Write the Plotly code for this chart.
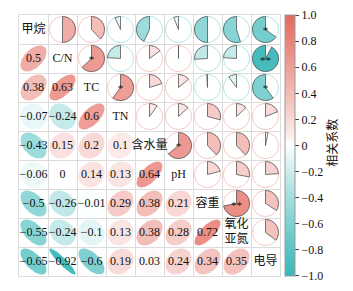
import numpy as np
import plotly.graph_objects as go

# ---------------- data ----------------
names = ["甲烷", "C/N", "TC", "TN", "含水量", "pH", "容重", "氧化<br>亚氮", "电导"]
lower_rows = [
    [0.5],
    [0.38, 0.63],
    [-0.07, -0.24, 0.6],
    [-0.43, 0.15, 0.2, 0.1],
    [-0.06, 0, 0.14, 0.13, 0.64],
    [-0.5, -0.26, -0.01, 0.29, 0.38, 0.21],
    [-0.55, -0.24, -0.1, 0.13, 0.38, 0.28, 0.72],
    [-0.65, -0.92, -0.6, 0.19, 0.03, 0.24, 0.34, 0.35],
]
sig_pairs = [(0, 8, "*"), (1, 2, "*"), (1, 8, "**"), (2, 3, "*"),
             (2, 8, "*"), (4, 5, "*"), (6, 7, "**")]
cbar_vals = [-1.0, -0.8, -0.6, -0.4, -0.2, 0, 0.2, 0.4, 0.6, 0.8, 1.0]
cbar_text = ["−1.0", "−0.8", "−0.6", "−0.4", "−0.2", "0", "0.2", "0.4", "0.6", "0.8", "1.0"]

n = len(names)
R = np.eye(n)
for i, row in enumerate(lower_rows):
    for j, v in enumerate(row):
        R[i + 1, j] = v
        R[j, i + 1] = v

# ---------------- style ----------------
NEG = np.array([56, 183, 184])
POS = np.array([228, 106, 94])
WHITE = np.array([255, 255, 255])
GAMMA = 0.85
SERIF = "Liberation Serif, Noto Sans CJK SC"
CJK = "Noto Sans CJK SC"


def col(v):
    a = min(abs(v), 1.0) ** GAMMA
    base = POS if v >= 0 else NEG
    c = WHITE + (base - WHITE) * a
    return "rgb(%d,%d,%d)" % tuple(np.round(c))


stops = np.linspace(-1, 1, 21)
colorscale = [[(s + 1) / 2, col(s)] for s in stops]

fig = go.Figure()
S = 0.45

# lower triangle: ellipses + numbers
for i in range(n):
    for j in range(i):
        r = R[i, j]
        cx, cy = j + 0.5, i + 0.5
        d = np.arccos(r)
        t = np.linspace(0, 2 * np.pi, 80)
        ex = cx + S * np.cos(t + d / 2)
        ey = cy - S * np.cos(t - d / 2)
        fig.add_trace(go.Scatter(x=ex, y=ey, mode="lines", fill="toself",
                                 fillcolor=col(r), line=dict(width=0),
                                 hoverinfo="skip", showlegend=False))

num_x, num_y, num_t = [], [], []
for i in range(n):
    for j in range(i):
        num_x.append(j + 0.5)
        num_y.append(i + 0.5)
        num_t.append(f"{R[i, j]:g}".replace("-", "−"))
fig.add_trace(go.Scatter(x=num_x, y=num_y, text=num_t, mode="text",
                         textfont=dict(family=SERIF, size=12, color="#111"),
                         cliponaxis=False, hoverinfo="skip", showlegend=False))

# upper triangle: pies
for i in range(n):
    for j in range(i + 1, n):
        r = R[i, j]
        cx, cy = j + 0.5, i + 0.5
        t = np.linspace(0, 2 * np.pi, 100)
        outline = "rgb(245,200,196)" if r >= 0 else "rgb(178,228,228)"
        fig.add_trace(go.Scatter(x=cx + S * np.sin(t), y=cy - S * np.cos(t),
                                 mode="lines", line=dict(color=outline, width=1),
                                 hoverinfo="skip", showlegend=False))
        th = np.linspace(0, 2 * np.pi * r, max(3, int(abs(r) * 100)))
        wx = np.concatenate([[cx], cx + S * np.sin(th), [cx]])
        wy = np.concatenate([[cy], cy - S * np.cos(th), [cy]])
        fig.add_trace(go.Scatter(x=wx, y=wy, mode="lines", fill="toself",
                                 fillcolor=col(r), line=dict(color="#555", width=0.8),
                                 hoverinfo="skip", showlegend=False))

sx = [j + 0.5 for i, j, s in sig_pairs]
sy = [i + 0.5 + (0.08 if len(s) == 2 else 0.05) for i, j, s in sig_pairs]
st = [s for i, j, s in sig_pairs]
fig.add_trace(go.Scatter(x=sx, y=sy, text=st, mode="text",
                         textfont=dict(family=SERIF, size=11, color="#111"),
                         hoverinfo="skip", showlegend=False))

# diagonal labels
fig.add_trace(go.Scatter(x=[k + 0.5 for k in range(n)], y=[k + 0.5 for k in range(n)],
                         text=names, mode="text",
                         textfont=dict(family=SERIF, size=12, color="#111"),
                         cliponaxis=False, hoverinfo="skip", showlegend=False))

# colorbar carrier
fig.add_trace(go.Scatter(x=[0.5, 0.5], y=[0.5, 0.5], mode="markers",
                         marker=dict(size=0.1, opacity=0, color=[-1, 1], cmin=-1.0005, cmax=1.0005,
                                     colorscale=colorscale, showscale=True,
                                     colorbar=dict(x=1.019, xanchor="left", xpad=0,
                                                   y=0.5, yanchor="middle", ypad=0,
                                                   len=1, lenmode="fraction", thickness=10,
                                                   outlinewidth=1, outlinecolor="#999",
                                                   ticks="outside", ticklen=4, tickcolor="#444",
                                                   tickmode="array", ticklabeloverflow="allow",
                                                   tickvals=cbar_vals, ticktext=cbar_text,
                                                   tickfont=dict(family=SERIF, size=12, color="#111"))),
                         hoverinfo="skip", showlegend=False))

fig.add_annotation(x=1.199, y=0.51, xref="paper", yref="paper", text="相关系数",
                   textangle=-90, showarrow=False, xanchor="center", yanchor="middle",
                   font=dict(family=CJK, size=12, color="#111"))

axis_common = dict(tickvals=list(range(n + 1)), showticklabels=False, ticks="",
                   showgrid=True, gridcolor="#dcdcdc", gridwidth=1, zeroline=False,
                   showline=True, linecolor="#dcdcdc", mirror=True)
fig.update_layout(
    width=337, height=283,
    margin=dict(l=11, r=65, t=7, b=15, autoexpand=False),
    paper_bgcolor="white", plot_bgcolor="white",
    xaxis=dict(range=[0, n], **axis_common),
    yaxis=dict(range=[n, 0], **axis_common),
)
fig.write_html("out.html")
